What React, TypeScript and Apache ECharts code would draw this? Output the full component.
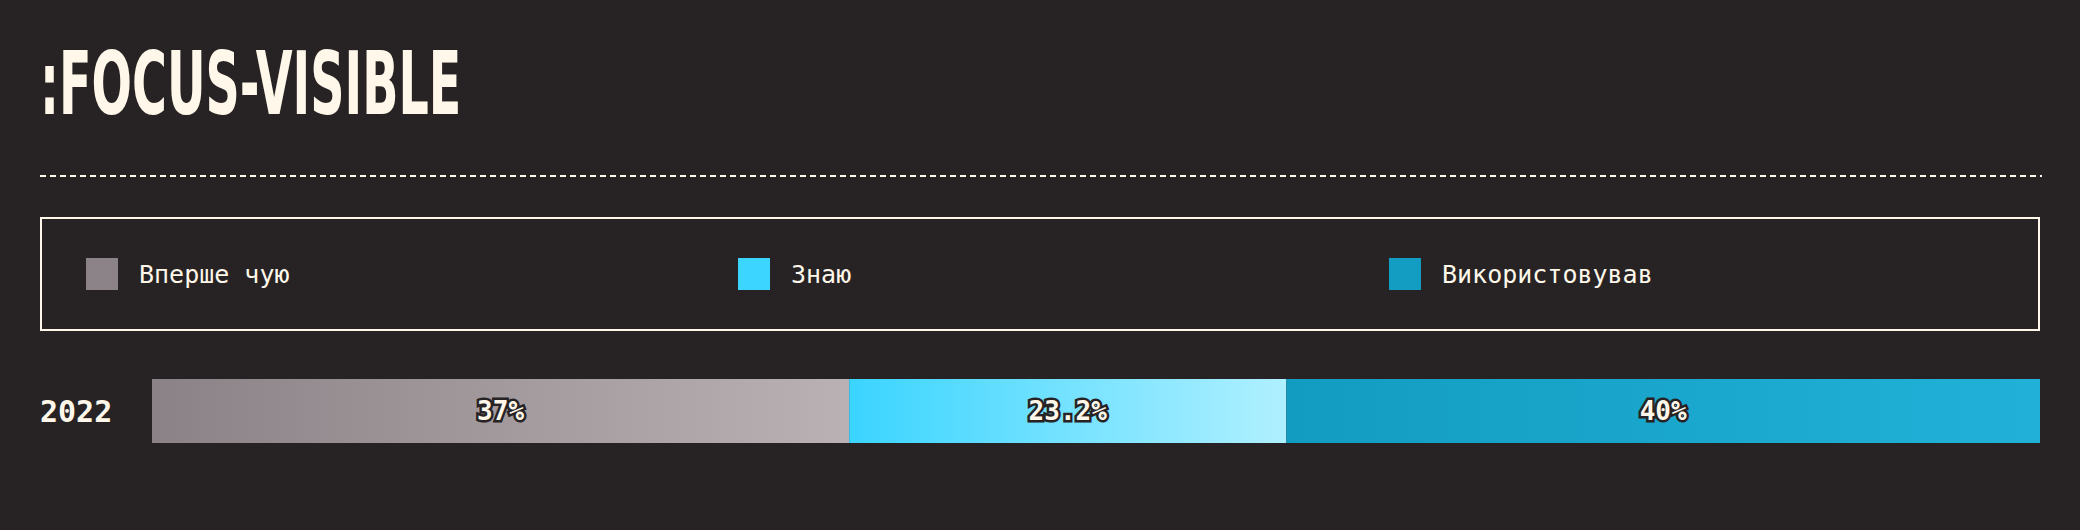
import React, { useEffect, useRef } from 'react';
import * as echarts from 'echarts';

const years = ['2022'];
const seriesNames = ['Вперше чую', 'Знаю', 'Використовував'];
const shares = [[37], [23.2], [40]];
const legendColors = ['#8c8388', '#3bd5ff', '#139dc2'];
const gradientStops = [
  ['#8b8287', '#bab1b4'],
  ['#3ad4ff', '#b0f0ff'],
  ['#139cc1', '#21b1d8'],
];

const BG = '#272324';
const CREAM = '#fff8ea';
const MONO = '"DejaVu Sans Mono", monospace';

const total = shares.reduce((s, v) => s + v[0], 0);

const App: React.FC = () => {
  const chartRef = useRef<HTMLDivElement>(null);

  useEffect(() => {
    document.body.style.margin = '0';
    const chart = echarts.init(chartRef.current!, null, { renderer: 'svg' });

    const legendLefts = [86, 738, 1389];

    const options = {
      animation: false,
      backgroundColor: BG,
      graphic: [
        {
          type: 'text',
          x: 40,
          y: 84,
          scaleX: 0.608,
          style: {
            text: ':FOCUS-VISIBLE',
            fill: CREAM,
            font: 'bold 87px "DejaVu Sans Condensed", sans-serif',
            textVerticalAlign: 'middle',
          },
        },
        {
          type: 'line',
          shape: { x1: 40, y1: 176, x2: 2042, y2: 176 },
          style: { stroke: CREAM, lineWidth: 2, lineDash: [6, 4] },
        },
        {
          type: 'rect',
          shape: { x: 41, y: 218, width: 1998, height: 112 },
          style: { fill: 'none', stroke: CREAM, lineWidth: 2 },
        },
      ],
      legend: seriesNames.map((name, i) => ({
        left: legendLefts[i],
        top: 258,
        padding: 0,
        icon: 'rect',
        itemWidth: 32,
        itemHeight: 32,
        selectedMode: false,
        data: [{ name, itemStyle: { color: legendColors[i] } }],
        textStyle: {
          color: CREAM,
          fontFamily: MONO,
          fontSize: 25,
          padding: [0, 0, 0, 16],
        },
      })),
      grid: { left: 152, right: 40, top: 379, height: 64 },
      xAxis: {
        type: 'value',
        min: 0,
        max: total,
        show: false,
      },
      yAxis: {
        type: 'category',
        data: years,
        axisLine: { show: false },
        axisTick: { show: false },
        axisLabel: {
          align: 'left',
          margin: 112,
          color: CREAM,
          fontFamily: MONO,
          fontWeight: 'bold',
          fontSize: 30,
        },
      },
      series: seriesNames.map((name, i) => ({
        name,
        type: 'bar',
        stack: 'total',
        barWidth: '100%',
        data: shares[i],
        itemStyle: {
          color: new echarts.graphic.LinearGradient(0, 0, 1, 0, [
            { offset: 0, color: gradientStops[i][0] },
            { offset: 1, color: gradientStops[i][1] },
          ]),
        },
        label: {
          show: true,
          position: 'inside',
          formatter: (p: any) => `${p.value}%`,
          color: CREAM,
          fontFamily: MONO,
          fontWeight: 'bold',
          fontSize: 26,
          textBorderColor: BG,
          textBorderWidth: 5,
        },
      })),
    };

    chart.setOption(options);

    return () => {
      chart.dispose();
    };
  }, []);

  return <div ref={chartRef} style={{ width: '2080px', height: '530px' }} />;
};

export default App;
